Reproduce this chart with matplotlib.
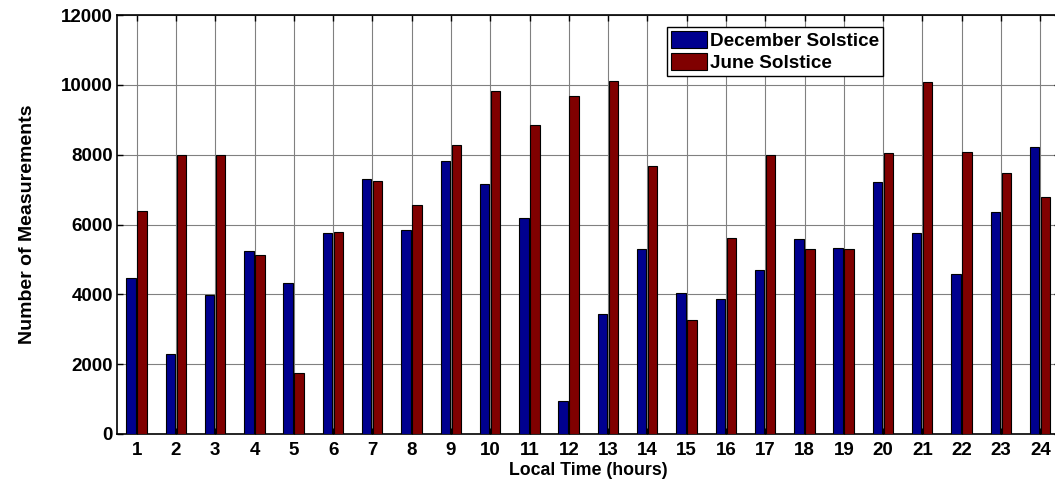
import numpy as np
import matplotlib
matplotlib.use('Agg')
import matplotlib.pyplot as plt

hours = list(range(1, 25))
december = [4480, 2280, 3980, 5230, 4320, 5765, 7290, 5840, 7810, 7170, 6180, 935,
            3430, 5300, 4040, 3860, 4690, 5575, 5325, 7215, 5745, 4580, 6355, 8220]
june = [6375, 7990, 7990, 5120, 1750, 5795, 7245, 6550, 8265, 9820, 8860, 9670,
        10115, 7685, 3255, 5620, 7995, 5300, 5300, 8045, 10090, 8075, 7485, 6775]

plt.rcParams['font.family'] = ['Liberation Sans', 'DejaVu Sans']
plt.rcParams['font.weight'] = 'bold'

fig = plt.figure(figsize=(10.55, 4.84), dpi=100)
# right edge sits slightly past the figure, like the cropped original
ax = fig.add_axes([117 / 1055, 50 / 484, (1060 - 117) / 1055, 419 / 484])

x = np.array(hours)
w = 0.24
ax.bar(x - 0.145, december, w, color='#00008F', edgecolor='black', linewidth=0.8,
       label='December Solstice', zorder=3)
ax.bar(x + 0.135, june, w, color='#800000', edgecolor='black', linewidth=0.8,
       label='June Solstice', zorder=3)

ax.set_xlim(0.5, 24.5)
ax.set_ylim(0, 12000)
ax.set_xticks(hours)
ax.set_yticks(range(0, 12001, 2000))
ax.grid(True, color='0.5', linewidth=0.8, zorder=0)
ax.tick_params(direction='in', top=True, right=True, length=4, width=1,
               labelsize=13.5, pad=3)
ax.tick_params(axis='x', pad=6)
for lab in ax.get_xticklabels() + ax.get_yticklabels():
    lab.set_fontweight('bold')
for s in ax.spines.values():
    s.set_linewidth(1.2)

ax.set_xlabel('Local Time (hours)', fontsize=12.8, fontweight='bold', labelpad=2)
ax.set_ylabel('Number of Measurements', fontsize=14, fontweight='bold', labelpad=18)

leg = ax.legend(loc='upper left', bbox_to_anchor=(667 / 1055, 1 - 27 / 484),
                bbox_transform=fig.transFigure, fontsize=13.6, frameon=True,
                fancybox=False, edgecolor='black', framealpha=1,
                handlelength=1.9, handleheight=1.0, handletextpad=0.2,
                borderpad=0.2, labelspacing=0.2, borderaxespad=0)
leg.get_frame().set_linewidth(1.0)
for t in leg.get_texts():
    t.set_fontweight('bold')

fig.savefig('out.png', dpi=100)
